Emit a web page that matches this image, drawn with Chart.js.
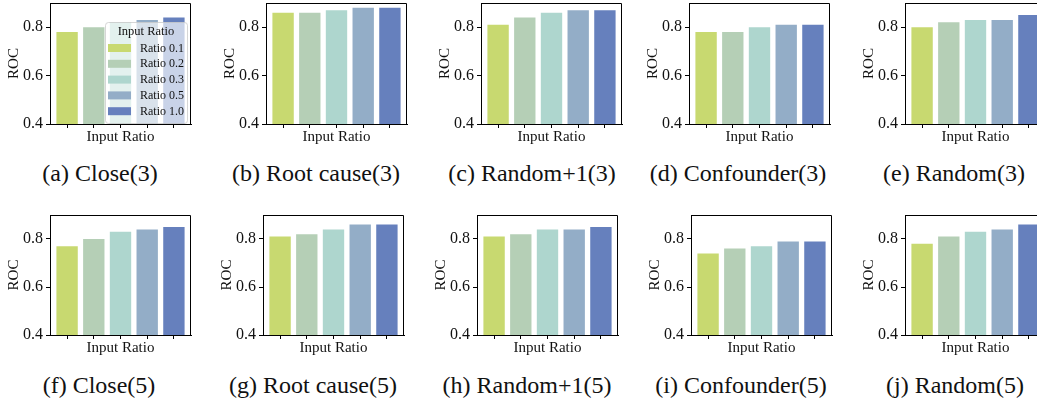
<!DOCTYPE html>
<html>
<head>
<meta charset="utf-8">
<script src="https://cdn.jsdelivr.net/npm/chart.js@4.4.1/dist/chart.umd.min.js"></script>
<style>
  html, body { margin: 0; padding: 0; background: #fff; overflow: hidden; }
  body { width: 1037px; height: 400px; position: relative; font-family: 'Liberation Serif', 'Times New Roman', serif; }
  canvas { position: absolute; }
  .cap { position: absolute; font-size: 24px; line-height: 1; color: #111; white-space: nowrap; transform: translate(-50%, -50%); }
</style>
</head>
<body>
<script>
// ratios shown in every panel
const ratios = ['0.1', '0.2', '0.3', '0.5', '1.0'];
const ratioColors = ['#c8d970', '#b5cfb6', '#aed6ce', '#93adc7', '#6680bd'];
const yTicks = [0.4, 0.6, 0.8];

// ROC per panel (ratio 0.1 .. 1.0)
const close3 = [0.78, 0.80, 0.82, 0.83, 0.84];
const rootCause3 = [0.86, 0.86, 0.87, 0.88, 0.88];
const randomPlus1_3 = [0.81, 0.84, 0.86, 0.87, 0.87];
const confounder3 = [0.78, 0.78, 0.80, 0.81, 0.81];
const random3 = [0.80, 0.82, 0.83, 0.83, 0.85];
const close5 = [0.77, 0.80, 0.83, 0.84, 0.85];
const rootCause5 = [0.81, 0.82, 0.84, 0.86, 0.86];
const randomPlus1_5 = [0.81, 0.82, 0.84, 0.84, 0.85];
const confounder5 = [0.74, 0.76, 0.77, 0.79, 0.79];
const random5 = [0.78, 0.81, 0.83, 0.84, 0.86];

const captions = ['(a) Close(3)', '(b) Root cause(3)', '(c) Random+1(3)', '(d) Confounder(3)', '(e) Random(3)',
                  '(f) Close(5)', '(g) Root cause(5)', '(h) Random+1(5)', '(i) Confounder(5)', '(j) Random(5)'];
const panelData = [close3, rootCause3, randomPlus1_3, confounder3, random3,
                   close5, rootCause5, randomPlus1_5, confounder5, random5];

// page layout: axes left edge, canvas top, caption centre
const axLeft = [50, 266, 481, 689, 905, 50, 263, 477, 691, 905];
const rowTop = [0, 212];
const capX = [100, 316, 532, 738, 954, 99, 313, 527, 741, 955];
const capY = [173, 385];

const FONT = "'Liberation Serif', 'Times New Roman', serif";

// top + right spines
const boxPlugin = {
  id: 'boxLines',
  afterDraw(chart) {
    const { ctx, chartArea: a } = chart;
    const t = Math.round(a.top) + 0.5, r = Math.round(a.right) - 0.5;
    ctx.save();
    ctx.strokeStyle = '#000';
    ctx.lineWidth = 1;
    ctx.beginPath();
    ctx.moveTo(Math.round(a.left), t);
    ctx.lineTo(r, t);
    ctx.lineTo(r, Math.round(a.bottom));
    ctx.stroke();
    ctx.restore();
  }
};

// matplotlib style legend inside the first panel
const legendPlugin = {
  id: 'ratioLegend',
  afterDatasetsDraw(chart, args, opts) {
    if (!opts.show) return;
    const { ctx, chartArea: a } = chart;
    const ds = chart.data.datasets[0];
    const w = 82, h = 101;
    const x = a.right - 4 - w, y = a.bottom - 1 - h;
    ctx.save();
    ctx.fillStyle = 'rgba(255,255,255,0.65)';
    ctx.strokeStyle = 'rgba(204,204,204,0.8)';
    ctx.lineWidth = 1;
    ctx.beginPath();
    ctx.roundRect(x + 0.5, y + 0.5, w, h, 3);
    ctx.fill();
    ctx.stroke();
    ctx.fillStyle = '#111';
    ctx.textBaseline = 'middle';
    ctx.textAlign = 'center';
    ctx.font = '12.5px ' + FONT;
    ctx.fillText('Input Ratio', x + w / 2, y + 10);
    ctx.textAlign = 'left';
    ctx.font = '12px ' + FONT;
    chart.data.labels.forEach((lab, i) => {
      const cy = y + 26 + i * 15.8;
      ctx.fillStyle = ds.backgroundColor[i];
      ctx.fillRect(x + 3, cy - 4, 23, 8);
      ctx.fillStyle = '#111';
      ctx.fillText(lab, x + 35, cy + 0.5);
    });
    ctx.restore();
  }
};

panelData.forEach((vals, p) => {
  const row = p < 5 ? 0 : 1;
  const cv = document.createElement('canvas');
  cv.width = 194;
  cv.height = row === 0 ? 148 : 147;
  cv.style.left = (axLeft[p] - 50) + 'px';
  cv.style.top = rowTop[row] + 'px';
  document.body.appendChild(cv);

  const cap = document.createElement('div');
  cap.className = 'cap';
  cap.textContent = captions[p];
  cap.style.left = capX[p] + 'px';
  cap.style.top = capY[row] + 'px';
  document.body.appendChild(cap);

  new Chart(cv, {
    type: 'bar',
    data: {
      labels: ratios.map(r => 'Ratio ' + r),
      datasets: [{
        data: vals.map((v, i) => ({ x: i, y: v })),
        backgroundColor: ratioColors,
        borderWidth: 0,
        barPercentage: 0.8,
        categoryPercentage: 1.0
      }]
    },
    options: {
      responsive: false,
      animation: false,
      devicePixelRatio: 1,
      layout: { padding: { top: 3, right: 3, left: 0, bottom: 0 } },
      plugins: {
        legend: { display: false },
        tooltip: { enabled: false },
        ratioLegend: { show: p === 0 }
      },
      scales: {
        x: {
          type: 'linear',
          offset: false,
          min: -0.64,
          max: 4.64,
          afterBuildTicks: s => { s.ticks = ratios.map((r, i) => ({ value: i })); },
          afterFit: s => { s.height = 24; s.paddingLeft = 0; s.paddingRight = 0; },
          ticks: { display: false },
          grid: { display: true, offset: false, drawOnChartArea: false, drawTicks: true, tickLength: 4, color: '#000', lineWidth: 1 },
          border: { display: true, color: '#000', width: 1 },
          title: { display: true, text: 'Input Ratio', color: '#111', font: { family: FONT, size: 15 }, padding: { top: 0, bottom: 2 } }
        },
        y: {
          min: 0.4,
          max: 0.9,
          afterBuildTicks: s => { s.ticks = yTicks.map(v => ({ value: v })); },
          afterFit: s => { s.width = 50; s.paddingTop = 0; s.paddingBottom = 0; },
          ticks: { color: '#111', padding: 3, font: { family: FONT, size: 16 }, callback: v => v.toFixed(1) },
          grid: { display: true, drawOnChartArea: false, drawTicks: true, tickLength: 4, color: '#000', lineWidth: 1 },
          border: { display: true, color: '#000', width: 1 },
          title: { display: true, text: 'ROC', color: '#111', font: { family: FONT, size: 15 }, padding: { top: 5, bottom: 0 } }
        }
      }
    },
    plugins: [boxPlugin, legendPlugin]
  });
});
</script>
</body>
</html>
